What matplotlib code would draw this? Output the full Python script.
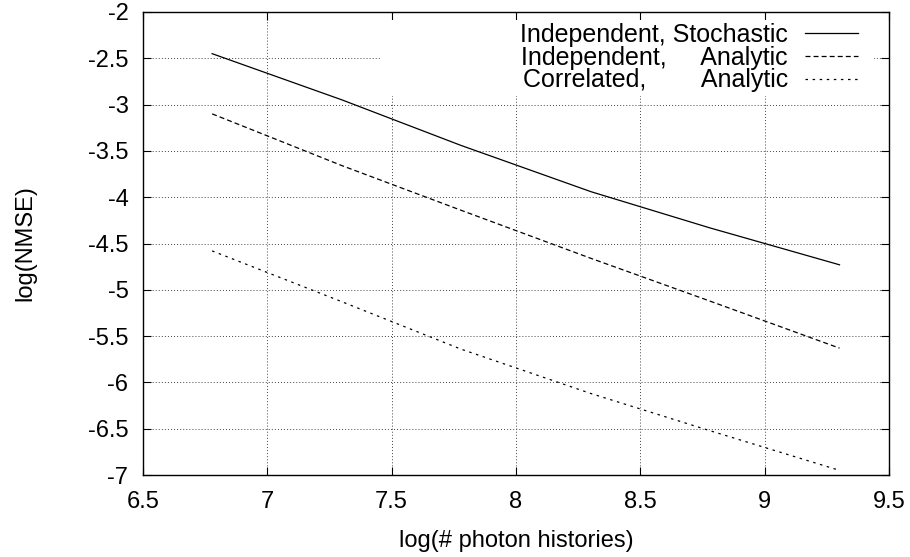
import matplotlib
matplotlib.use("Agg")
import matplotlib.pyplot as plt
from matplotlib.patches import Rectangle
from matplotlib.ticker import FuncFormatter

# log10 of the number of photon histories
log_histories = [6.778, 7.301, 7.778, 8.301, 8.778, 9.301]
# log10 of the normalised mean squared error for each method
indep_stochastic = [-2.45, -2.95, -3.44, -3.94, -4.33, -4.73]
indep_analytic = [-3.10, -3.66, -4.14, -4.66, -5.12, -5.63]
corr_analytic = [-4.58, -5.13, -5.64, -6.12, -6.52, -6.95]

labels = ["Independent, Stochastic",
          "Independent,     Analytic",
          "Correlated,        Analytic"]

x_ticks = [6.5, 7, 7.5, 8, 8.5, 9, 9.5]
y_ticks = [-7, -6.5, -6, -5.5, -5, -4.5, -4, -3.5, -3, -2.5, -2]

plt.rcParams["font.family"] = ["Liberation Sans", "DejaVu Sans"]
plt.rcParams["lines.scale_dashes"] = False
fs = 17

fig = plt.figure(figsize=(9.10, 5.57), dpi=100)
ax = fig.add_axes([143 / 910, 1 - 475 / 557, 746 / 910, 463 / 557])

ax.plot(log_histories, indep_stochastic, color="black", lw=0.9,
        label=labels[0])
ax.plot(log_histories, indep_analytic, color="black", lw=0.9,
        dashes=(3.6, 2.2), label=labels[1])
ax.plot(log_histories, corr_analytic, color="black", lw=0.9,
        dashes=(1.8, 3.3), label=labels[2])

ax.set_xlim(6.5, 9.5)
ax.set_ylim(-7, -2)
ax.set_xticks(x_ticks)
ax.set_yticks(y_ticks)
fmt = FuncFormatter(lambda v, p: "%g" % v)
ax.xaxis.set_major_formatter(fmt)
ax.yaxis.set_major_formatter(fmt)
ax.tick_params(direction="in", length=5.5, width=0.8, top=True, right=True,
               labelsize=fs)
ax.tick_params(axis="x", pad=11.5)
ax.tick_params(axis="y", pad=10.5)
for s in ax.spines.values():
    s.set_linewidth(1.0)

ax.grid(True, color="#444444", lw=0.7, dashes=(0.7, 1.5))

# white key area hides the grid behind the legend
ax.add_patch(Rectangle((0.319, 0.8186), 0.661, 0.164, transform=ax.transAxes,
                       facecolor="white", edgecolor="none", zorder=1.6))

ax.set_xlabel("log(# photon histories)", fontsize=fs, va="center")
ax.xaxis.set_label_coords(0.5, (475 - 541) / 463)
ax.set_ylabel("log(NMSE)", fontsize=fs, va="center")
ax.yaxis.set_label_coords((25 - 143) / 746, 0.5)

leg = ax.legend(loc="upper right", bbox_to_anchor=(858 / 910, 1 - 23 / 557),
                bbox_transform=fig.transFigure, frameon=False,
                markerfirst=False, fontsize=18, borderpad=0, borderaxespad=0,
                handlelength=2.12, handletextpad=0.68, labelspacing=-0.05)

fig.savefig("out.png", dpi=100)
